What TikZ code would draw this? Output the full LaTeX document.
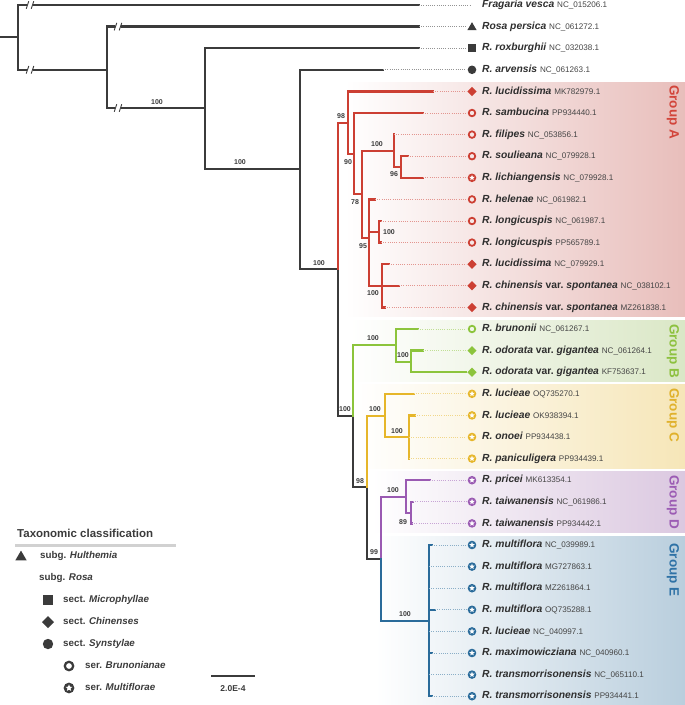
\documentclass[tikz,border=0pt]{standalone}
\usepackage{fontspec}
\setmainfont{Liberation Sans}
\definecolor{bk}{HTML}{3B3B3B}
\definecolor{rd}{HTML}{CC3F33}
\definecolor{gr}{HTML}{8CC43C}
\definecolor{yl}{HTML}{E6B62A}
\definecolor{pu}{HTML}{9A5AB2}
\definecolor{bl}{HTML}{2A6B9A}
\definecolor{bgA}{HTML}{E8BEBB}
\definecolor{bgB}{HTML}{DAE7C6}
\definecolor{bgC}{HTML}{F6E6B8}
\definecolor{bgD}{HTML}{DBC8E0}
\definecolor{bgE}{HTML}{B9CEDD}
\definecolor{txt}{HTML}{2E2E2E}
\definecolor{acc}{HTML}{444444}
\definecolor{lgA}{HTML}{D2453B}
\definecolor{lgB}{HTML}{8DC13F}
\definecolor{lgC}{HTML}{E0B12C}
\definecolor{lgD}{HTML}{9C5CB4}
\definecolor{lgE}{HTML}{2F72A6}
\newcommand\mktri[4]{\fill[#1] (#2,#3) ++(0,-#4) -- ++(#4*1.05,#4*1.8) -- ++(-#4*2.1,0) -- cycle;}
\newcommand\mksq[4]{\fill[#1] (#2-#4,#3-#4) rectangle (#2+#4,#3+#4);}
\newcommand\mkdia[4]{\fill[#1] (#2,#3-#4) -- (#2+#4,#3) -- (#2,#3+#4) -- (#2-#4,#3) -- cycle;}
\newcommand\mkdot[4]{\fill[#1] (#2,#3) circle[radius=#4];}
\newcommand\mkring[4]{\draw[#1, line width=#4*0.42] (#2,#3) circle[radius=#4*0.78];}
\newcommand\mkstar[4]{\fill[#1] (#2,#3) circle[radius=#4];
  \fill[white] (#2,#3) +(-90:#4*0.68) -- +(-54:#4*0.3) -- +(-18:#4*0.68) -- +(18:#4*0.3) -- +(54:#4*0.68) -- +(90:#4*0.3) -- +(126:#4*0.68) -- +(162:#4*0.3) -- +(198:#4*0.68) -- +(234:#4*0.3) -- cycle;}
\newcommand\spc[1]{{\bfseries\itshape #1}}
\newcommand\vr{{\bfseries var.}}
\newcommand\accn[1]{{\fontsize{8.1}{9}\selectfont\color{acc}#1}}
% leaf: name, y, tip x, colour, marker, marker size, species, accession
\newcommand\leaf[8]{%
  \draw[lead,#4!55] (#3,#2) -- (466,#2);
  #5{#4}{472}{#2}{#6}
  \node[leaf] (#1) at (482,#2) {#7\ \accn{#8}};}
\begin{document}
\begin{tikzpicture}[x=1pt,y=-1pt,
  br/.style={line width=2.5pt,line cap=rect,line join=miter},
  lead/.style={line width=0.8pt,dash pattern=on 0.8pt off 1.4pt},
  leaf/.style={anchor=mid west,inner sep=0pt,text=txt,font=\fontsize{10.3}{11}\selectfont},
  bs/.style={inner sep=0pt,text=bk,font=\bfseries\fontsize{7}{7}\selectfont},
  grp/.style={rotate=-90,inner sep=0pt,font=\bfseries\fontsize{13.5}{14}\selectfont},
  lg/.style={anchor=mid west,inner sep=0pt,text=bk,font=\bfseries\fontsize{9.8}{11}\selectfont},
  brk/.style={line width=0.9pt,bk}]
\useasboundingbox (0,0) rectangle (685,705);
% group backgrounds
\shade[left color=white,right color=bgA] (345,82) rectangle (685,316);
\shade[left color=white,right color=bgB] (350,320) rectangle (685,381);
\shade[left color=white,right color=bgC] (355,384) rectangle (685,468);
\shade[left color=white,right color=bgD] (372,471) rectangle (685,532);
\shade[left color=white,right color=bgE] (375,536) rectangle (685,705);
% group labels
\node[grp,text=lgA] (gA) at (673,112) {Group A};
\node[grp,text=lgB] (gB) at (673,351) {Group B};
\node[grp,text=lgC] (gC) at (673,415) {Group C};
\node[grp,text=lgD] (gD) at (673,502) {Group D};
\node[grp,text=lgE] (gE) at (673,570) {Group E};
% backbone (black)
\draw[br,bk] (0,37) -- (18,37);
\draw[br,bk] (18,5) -- (18,69.8);
\draw[br,bk] (18,5) -- (419,5);
\draw[br,bk] (18,69.8) -- (107,69.8);
\draw[br,bk] (107,26.6) -- (107,108);
\draw[br,bk] (107,26.6) -- (419,26.6);
\draw[br,bk] (107,108) -- (205,108);
\draw[br,bk] (205,48.2) -- (205,169);
\draw[br,bk] (205,48.2) -- (419,48.2);
\draw[br,bk] (205,169) -- (300,169);
\draw[br,bk] (300,69.8) -- (300,269);
\draw[br,bk] (300,69.8) -- (383,69.8);
\draw[br,bk] (300,269) -- (338,269);
\draw[br,bk] (338,269) -- (338,416) -- (353,416) -- (353,487) -- (367,487) -- (367,559) -- (381,559);
% break marks
\foreach \bx/\by in {30/5,30/69.8,118/26.6,118/108}{
  \fill[white] (\bx-3,\by-4) rectangle (\bx+3,\by+4);
  \draw[brk] (\bx-3.8,\by+3.8) -- (\bx-1.2,\by-3.8);
  \draw[brk] (\bx+1.2,\by+3.8) -- (\bx+3.8,\by-3.8);}
% group A (red)
\draw[br,rd] (338,269) -- (338,123) -- (348,123);
\draw[br,rd] (433,91.4) -- (348,91.4) -- (348,154) -- (354,154);
\draw[br,rd] (423,113) -- (354,113) -- (354,194) -- (362,194);
\draw[br,rd] (394,151) -- (362,151) -- (362,238) -- (369,238);
\draw[br,rd] (394,134.6) -- (394,167) -- (401,167);
\draw[br,rd] (408,156.2) -- (401,156.2) -- (401,177.8) -- (423,177.8);
\draw[br,rd] (375,199.4) -- (369,199.4) -- (369,285.8) -- (399,285.8);
\draw[br,rd] (369,232) -- (379,232);
\draw[br,rd] (381,221) -- (379,221) -- (379,242.6) -- (381,242.6);
\draw[br,rd] (389,264.2) -- (382,264.2) -- (382,307.4) -- (385,307.4);
% group B (green)
\draw[br,gr] (353,416) -- (353,345) -- (396,345);
\draw[br,gr] (418,329) -- (396,329) -- (396,362) -- (411,362);
\draw[br,gr] (423,350.6) -- (411,350.6) -- (411,372.2) -- (466,372.2);
% group C (yellow)
\draw[br,yl] (367,487) -- (367,416) -- (385,416);
\draw[br,yl] (414,393.8) -- (385,393.8) -- (385,437) -- (409,437);
\draw[br,yl] (415,415.4) -- (409,415.4) -- (409,458.6);
% group D (purple)
\draw[br,pu] (381,559) -- (381,497) -- (406,497);
\draw[br,pu] (430,480.2) -- (406,480.2) -- (406,513) -- (411,513);
\draw[br,pu] (413,501.8) -- (411,501.8) -- (411,523.4) -- (412,523.4);
% group E (blue)
\draw[br,bl] (381,559) -- (381,621) -- (429,621);
\draw[br,bl] (432,545) -- (429,545) -- (429,696.2) -- (432,696.2);
\draw[br,bl] (429,609.8) -- (435,609.8);
\draw[br,bl] (429,653) -- (432,653);
% bootstrap values
\node[bs] (b1) at (157,102) {100};
\node[bs] (b2) at (240,162) {100};
\node[bs] (b3) at (319,263) {100};
\node[bs] (b4) at (341,116) {98};
\node[bs] (b5) at (348,162) {90};
\node[bs] (b6) at (377,144) {100};
\node[bs] (b7) at (394,174) {96};
\node[bs] (b8) at (355,202) {78};
\node[bs] (b9) at (363,246) {95};
\node[bs] (b10) at (389,232) {100};
\node[bs] (b11) at (373,293) {100};
\node[bs] (b12) at (373,338) {100};
\node[bs] (b13) at (403,355) {100};
\node[bs] (b14) at (345,409) {100};
\node[bs] (b15) at (375,409) {100};
\node[bs] (b16) at (397,431) {100};
\node[bs] (b17) at (360,481) {98};
\node[bs] (b18) at (393,490) {100};
\node[bs] (b19) at (403,522) {89};
\node[bs] (b20) at (374,552) {99};
\node[bs] (b21) at (405,614) {100};
% leaves
\draw[lead,bk!55] (419,5) -- (471,5);
\node[leaf] (t1) at (482,5) {\spc{Fragaria vesca}\ \accn{NC\_015206.1}};
\leaf{t2}{26.6}{419}{bk}{\mktri}{4.4}{\spc{Rosa persica}}{NC\_061272.1}
\leaf{t3}{48.2}{419}{bk}{\mksq}{4}{\spc{R. roxburghii}}{NC\_032038.1}
\leaf{t4}{69.8}{383}{bk}{\mkdot}{4.3}{\spc{R. arvensis}}{NC\_061263.1}
\leaf{t5}{91.4}{433}{rd}{\mkdia}{4.6}{\spc{R. lucidissima}}{MK782979.1}
\leaf{t6}{113}{423}{rd}{\mkring}{4.2}{\spc{R. sambucina}}{PP934440.1}
\leaf{t7}{134.6}{394}{rd}{\mkring}{4.2}{\spc{R. filipes}}{NC\_053856.1}
\leaf{t8}{156.2}{408}{rd}{\mkring}{4.2}{\spc{R. soulieana}}{NC\_079928.1}
\leaf{t9}{177.8}{423}{rd}{\mkstar}{4.3}{\spc{R. lichiangensis}}{NC\_079928.1}
\leaf{t10}{199.4}{375}{rd}{\mkring}{4.2}{\spc{R. helenae}}{NC\_061982.1}
\leaf{t11}{221}{381}{rd}{\mkring}{4.2}{\spc{R. longicuspis}}{NC\_061987.1}
\leaf{t12}{242.6}{381}{rd}{\mkring}{4.2}{\spc{R. longicuspis}}{PP565789.1}
\leaf{t13}{264.2}{389}{rd}{\mkdia}{4.6}{\spc{R. lucidissima}}{NC\_079929.1}
\leaf{t14}{285.8}{399}{rd}{\mkdia}{4.6}{\spc{R. chinensis} \vr\ \spc{spontanea}}{NC\_038102.1}
\leaf{t15}{307.4}{385}{rd}{\mkdia}{4.6}{\spc{R. chinensis} \vr\ \spc{spontanea}}{MZ261838.1}
\leaf{t16}{329}{418}{gr}{\mkring}{4.2}{\spc{R. brunonii}}{NC\_061267.1}
\leaf{t17}{350.6}{423}{gr}{\mkdia}{4.6}{\spc{R. odorata} \vr\ \spc{gigantea}}{NC\_061264.1}
\leaf{t18}{372.2}{466}{gr}{\mkdia}{4.6}{\spc{R. odorata} \vr\ \spc{gigantea}}{KF753637.1}
\leaf{t19}{393.8}{414}{yl}{\mkstar}{4.3}{\spc{R. lucieae}}{OQ735270.1}
\leaf{t20}{415.4}{415}{yl}{\mkstar}{4.3}{\spc{R. lucieae}}{OK938394.1}
\leaf{t21}{437}{409}{yl}{\mkstar}{4.3}{\spc{R. onoei}}{PP934438.1}
\leaf{t22}{458.6}{409}{yl}{\mkstar}{4.3}{\spc{R. paniculigera}}{PP934439.1}
\leaf{t23}{480.2}{430}{pu}{\mkstar}{4.3}{\spc{R. pricei}}{MK613354.1}
\leaf{t24}{501.8}{413}{pu}{\mkstar}{4.3}{\spc{R. taiwanensis}}{NC\_061986.1}
\leaf{t25}{523.4}{412}{pu}{\mkstar}{4.3}{\spc{R. taiwanensis}}{PP934442.1}
\leaf{t26}{545}{432}{bl}{\mkstar}{4.3}{\spc{R. multiflora}}{NC\_039989.1}
\leaf{t27}{566.6}{429}{bl}{\mkstar}{4.3}{\spc{R. multiflora}}{MG727863.1}
\leaf{t28}{588.2}{429}{bl}{\mkstar}{4.3}{\spc{R. multiflora}}{MZ261864.1}
\leaf{t29}{609.8}{435}{bl}{\mkstar}{4.3}{\spc{R. multiflora}}{OQ735288.1}
\leaf{t30}{631.4}{429}{bl}{\mkstar}{4.3}{\spc{R. lucieae}}{NC\_040997.1}
\leaf{t31}{653}{432}{bl}{\mkstar}{4.3}{\spc{R. maximowicziana}}{NC\_040960.1}
\leaf{t32}{674.6}{429}{bl}{\mkstar}{4.3}{\spc{R. transmorrisonensis}}{NC\_065110.1}
\leaf{t33}{696.2}{432}{bl}{\mkstar}{4.3}{\spc{R. transmorrisonensis}}{PP934441.1}
% legend
\draw[line width=3pt,black!18] (15,545) -- (176,545);
\node[lg,font=\bfseries\fontsize{11.5}{12}\selectfont] (lt) at (17,535) {Taxonomic classification};
\mktri{bk}{21}{556}{5.4}
\node[lg] (l1) at (40,556) {subg. \textit{Hulthemia}};
\node[lg] (l2) at (39,577.5) {subg. \textit{Rosa}};
\mksq{bk}{48}{600}{5}
\node[lg] (l3) at (63,600) {sect. \textit{Microphyllae}};
\mkdia{bk}{48}{622}{6}
\node[lg] (l4) at (63,622) {sect. \textit{Chinenses}};
\mkdot{bk}{48}{644}{5.2}
\node[lg] (l5) at (63,644) {sect. \textit{Synstylae}};
\mkring{bk}{69}{666}{5.4}
\node[lg] (l6) at (85,666) {ser. \textit{Brunonianae}};
\mkstar{bk}{69}{688}{5.4}
\node[lg] (l7) at (85,688) {ser. \textit{Multiflorae}};
% scale bar
\coordinate (s1) at (211,676);
\coordinate (s2) at (255,676);
\draw[bk,line width=1.6pt] (s1) -- (s2);
\node[bs,font=\bfseries\fontsize{8.5}{9}\selectfont] (sl) at (233,689) {2.0E-4};
\end{tikzpicture}
\end{document}
